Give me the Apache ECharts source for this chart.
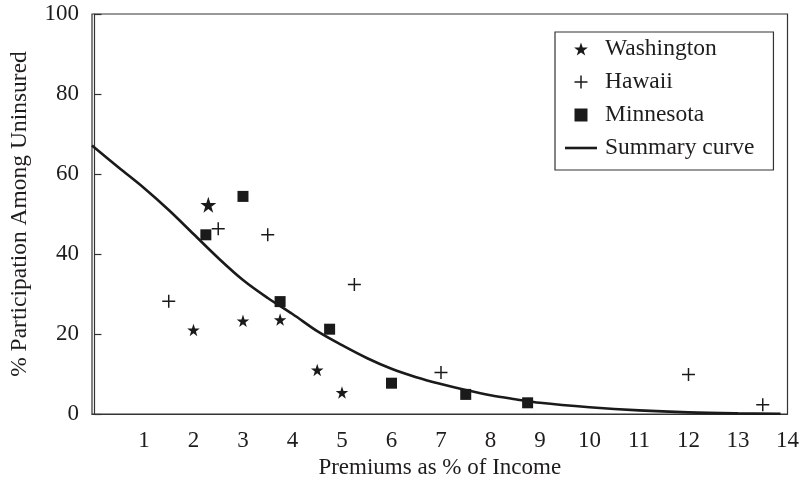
<!DOCTYPE html>
<html>
<head>
<meta charset="utf-8">
<script src="https://cdn.jsdelivr.net/npm/echarts@6/dist/echarts.min.js"></script>
<style>
  html, body { margin: 0; padding: 0; background: #fff; }
  #chart { width: 802px; height: 488px; }
</style>
</head>
<body>
<div id="chart"></div>
<script>
// Premium level (% of income) vs. participation among the uninsured
const xTickLabels = [1, 2, 3, 4, 5, 6, 7, 8, 9, 10, 11, 12, 13, 14];

const washington = [
  [2.3, 52.3], [2.0, 21.0], [3.0, 23.3], [3.75, 23.6], [4.5, 11.0], [5.0, 5.4]
];
const hawaii = [
  [1.5, 28.2], [2.5, 46.3], [3.5, 44.8], [5.25, 32.4], [7.0, 10.4], [12.0, 9.9], [13.5, 2.3]
];
const minnesota = [
  [2.25, 44.8], [3.0, 54.4], [3.75, 28.1], [4.75, 21.2], [6.0, 7.7], [7.5, 4.9], [8.75, 2.8]
];
const summaryCurve = [
  [-0.05, 67.1], [0.5, 61.5], [1, 56.5], [1.5, 51], [2, 45], [2.5, 39], [3, 33.5],
  [3.5, 29], [4, 25], [4.5, 20.7], [5, 17.2], [5.5, 14], [6, 11.3], [6.5, 9.2],
  [7, 7.5], [7.5, 6], [8, 4.7], [8.5, 3.7], [9, 2.8], [10, 1.7], [11, 0.9],
  [12, 0.4], [13, 0.15], [13.86, 0.05]
];

const FONT = '"Liberation Serif", "Times New Roman", serif';
const INK = '#1f1c1d';
const MARK = '#1a1a1a';

const STAR = 'path://M50,0 L61.8,35.1 L98.1,35.1 L68.8,56.7 L79.4,90.5 L50,69.5 L20.6,90.5 L31.2,56.7 L1.9,35.1 L38.2,35.1 Z';
const PLUS = 'path://M0,6.2H6.2V0H7.8V6.2H14V7.8H7.8V14H6.2V7.8H0Z';
const SQUARE = 'path://M0,0H10V10H0Z';
const LINE_ICON = 'path://M0,0H32V2.6H0Z';

const chart = echarts.init(document.getElementById('chart'), null, { renderer: 'canvas' });

chart.setOption({
  animation: false,
  backgroundColor: '#fff',
  textStyle: { fontFamily: FONT, color: INK },
  grid: {
    left: 92, right: 14, top: 14, bottom: 74,
    show: true, borderColor: '#333', borderWidth: 1.2, backgroundColor: 'transparent'
  },
  legend: {
    data: [
      { name: 'Washington', icon: STAR },
      { name: 'Hawaii', icon: PLUS },
      { name: 'Minnesota', icon: SQUARE },
      { name: 'Summary curve', icon: LINE_ICON }
    ],
    orient: 'vertical',
    left: 555, top: 32,
    itemWidth: 32, itemHeight: 13, itemGap: 9,
    padding: [5, 19, 10, 10],
    borderColor: '#333', borderWidth: 1.2,
    backgroundColor: '#fff',
    textStyle: { fontFamily: FONT, fontSize: 23.5, color: INK, lineHeight: 24, padding: [0, 0, 0, 3] }
  },
  xAxis: {
    type: 'value',
    min: -0.05, max: 14,
    name: 'Premiums as % of Income',
    nameLocation: 'middle', nameGap: 35,
    nameTextStyle: { fontFamily: FONT, fontSize: 23, color: INK },
    axisLine: { show: true, lineStyle: { color: '#333', width: 1.2 } },
    axisTick: { show: false },
    splitLine: { show: false },
    axisLabel: {
      customValues: xTickLabels,
      fontFamily: FONT, fontSize: 23, color: INK, margin: 15
    }
  },
  yAxis: {
    type: 'value',
    min: 0, max: 100, interval: 20,
    name: '% Participation Among Uninsured',
    nameLocation: 'middle', nameGap: 60, nameRotate: 90,
    nameTextStyle: { fontFamily: FONT, fontSize: 23.5, color: INK },
    axisLine: { show: true, lineStyle: { color: '#333', width: 1.2 } },
    axisTick: { show: true, inside: true, length: 7, lineStyle: { color: '#333', width: 1.2 } },
    splitLine: { show: false },
    axisLabel: {
      fontFamily: FONT, fontSize: 23, color: INK, margin: 13,
      verticalAlign: 'middle', padding: [6, 0, 0, 0]
    }
  },
  series: [
    {
      name: 'Summary curve',
      type: 'line',
      data: summaryCurve,
      smooth: 0.35,
      symbol: 'none',
      lineStyle: { color: MARK, width: 2.6 },
      itemStyle: { color: MARK },
      z: 1
    },
    {
      name: 'Washington',
      type: 'scatter',
      data: washington.map((p, i) => i === 0 ? { value: p, symbolSize: 16 } : p),
      symbol: STAR,
      symbolSize: 12.5,
      itemStyle: { color: MARK, opacity: 1 },
      z: 3
    },
    {
      name: 'Hawaii',
      type: 'scatter',
      data: hawaii,
      symbol: PLUS,
      symbolSize: 13,
      itemStyle: { color: MARK, opacity: 1 },
      z: 3
    },
    {
      name: 'Minnesota',
      type: 'scatter',
      data: minnesota,
      symbol: SQUARE,
      symbolSize: 11,
      itemStyle: { color: MARK, opacity: 1 },
      z: 3
    }
  ]
});
</script>
</body>
</html>
